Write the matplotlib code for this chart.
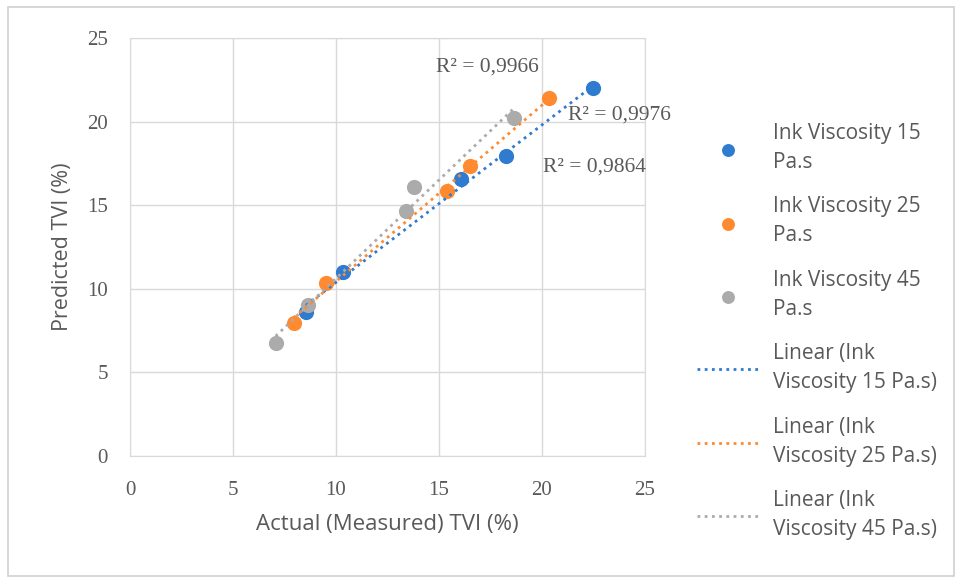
import numpy as np
import matplotlib
matplotlib.use('Agg')
import matplotlib.pyplot as plt
from matplotlib.patches import Rectangle

# ---- data ----
x15 = [22.48, 18.25, 16.07, 10.34, 8.54]
y15 = [22.00, 17.94, 16.57, 11.00, 8.60]
x25 = [20.36, 16.50, 15.40, 9.51, 7.95]
y25 = [21.43, 17.34, 15.87, 10.37, 7.97]
x45 = [18.64, 13.80, 13.38, 8.66, 7.07]
y45 = [20.19, 16.11, 14.63, 9.03, 6.74]

labels = ['Ink Viscosity 15\nPa.s', 'Ink Viscosity 25\nPa.s', 'Ink Viscosity 45\nPa.s']
fit_labels = ['Linear (Ink\nViscosity 15 Pa.s)', 'Linear (Ink\nViscosity 25 Pa.s)',
              'Linear (Ink\nViscosity 45 Pa.s)']
r2_text = ['R² = 0,9864', 'R² = 0,9976', 'R² = 0,9966']
r2_pos = [(22.57, 17.28), (23.74, 20.39), (17.33, 23.27)]

colors = ['#2E7BD0', '#FF8A30', '#ABABAB']
txt = '#595959'
sans = ['Open Sans', 'DejaVu Sans']
serif = ['Liberation Serif', 'DejaVu Serif']

fig = plt.figure(figsize=(9.6, 5.81), dpi=100)
ax = fig.add_axes([130/960, 1 - 456/581, 515/960, 418/581])

# outer chart border
fig.patches.append(Rectangle((8/960, 1 - 576/581), 946/960, 569/581,
                             transform=fig.transFigure, fill=False,
                             edgecolor='#d0d0d0', linewidth=1.2))

series = [(x15, y15), (x25, y25), (x45, y45)]
pts = []
for (xs, ys), c, lab in zip(series, colors, labels):
    h = ax.scatter(xs, ys, s=120, color=c, label=lab, zorder=3, linewidths=0)
    pts.append(h)

lines = []
for (xs, ys), c, lab in zip(series, colors, fit_labels):
    k, b = np.polyfit(xs, ys, 1)
    xx = np.array([min(xs), max(xs)])
    ln, = ax.plot(xx, k * xx + b, linestyle=(0, (1, 1.6)), color=c, lw=2.0,
                  label=lab, zorder=4)
    lines.append(ln)

for t, (px, py) in zip(r2_text, r2_pos):
    ax.text(px, py, t, fontsize=15.5, color=txt, family=serif, ha='center', va='center')

ax.set_xlim(0, 25)
ax.set_ylim(0, 25)
ax.set_xticks(range(0, 26, 5))
ax.set_yticks(range(0, 26, 5))
ax.grid(True, color='#d9d9d9', linewidth=1)
ax.set_axisbelow(True)
for s in ax.spines.values():
    s.set_color('#d9d9d9')
ax.tick_params(length=0, labelsize=15, labelcolor=txt)
ax.tick_params(axis='x', pad=18)
ax.tick_params(axis='y', pad=16)
for lbl in ax.get_xticklabels() + ax.get_yticklabels():
    lbl.set_family(serif)

ax.set_xlabel('Actual (Measured) TVI (%)', fontsize=16, color=txt, family=sans, labelpad=10)
ax.set_ylabel('Predicted TVI (%)', fontsize=15.5, color=txt, family=sans, labelpad=10)

leg = fig.legend(handles=pts + lines, loc='upper left', bbox_to_anchor=(678/960, 1 - 104/581),
                 frameon=False, prop={'family': sans, 'size': 15}, labelcolor=txt,
                 handlelength=3.0, handletextpad=0.67, labelspacing=1.13, markerscale=0.85)
for t in leg.get_texts():
    t.set_linespacing(1.5)

fig.savefig('out.png', dpi=100)
